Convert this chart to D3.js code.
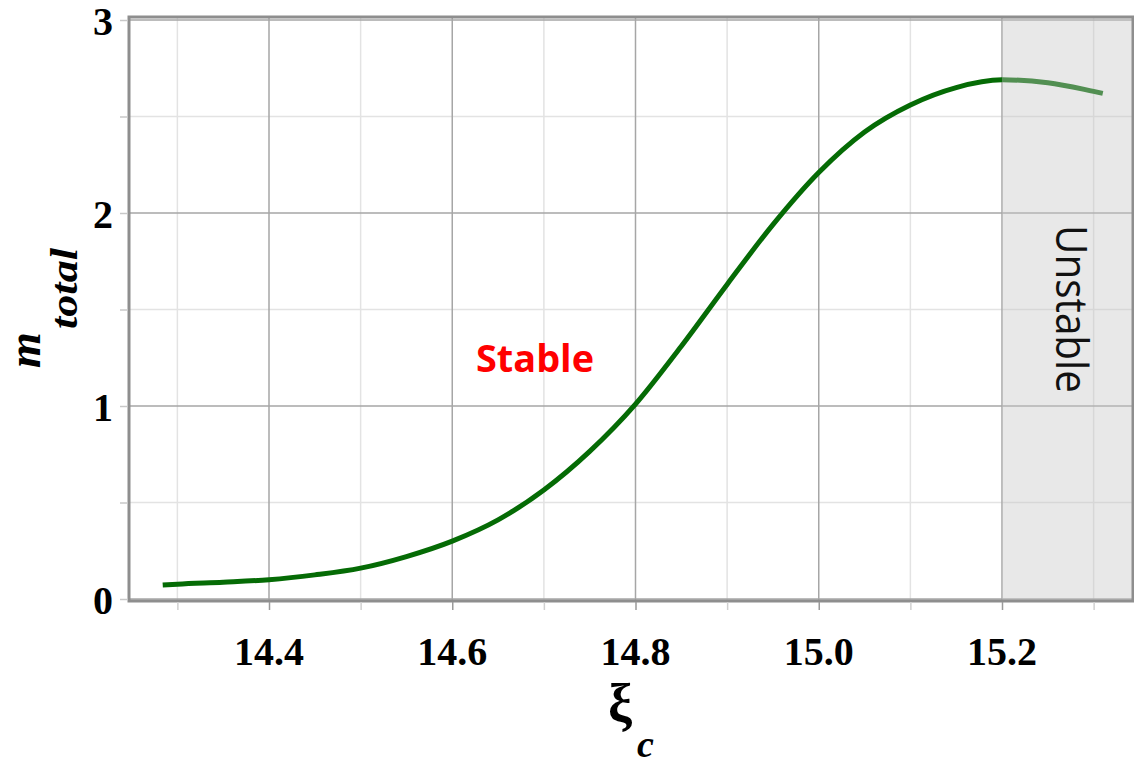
<!DOCTYPE html>
<html>
<head>
<meta charset="utf-8">
<script src="https://cdn.jsdelivr.net/npm/d3@7"></script>
<style>
  html, body { margin: 0; padding: 0; background: #fff; }
  svg { display: block; }
</style>
</head>
<body>
<svg id="chart" width="1134" height="766"></svg>
<script>
// Total mass versus central parameter xi_c
const xiValues = [14.284, 14.30, 14.35, 14.40, 14.45, 14.50, 14.55, 14.60, 14.65, 14.70,
                  14.75, 14.80, 14.85, 14.90, 14.95, 15.00, 15.05, 15.10, 15.15, 15.20,
                  15.25, 15.30, 15.31];
const massValues = [0.072, 0.077, 0.087, 0.100, 0.125, 0.160, 0.220, 0.300, 0.410, 0.565,
                    0.765, 1.010, 1.310, 1.630, 1.940, 2.210, 2.420, 2.560, 2.650, 2.690,
                    2.675, 2.630, 2.620];

const xMajorTicks = [14.4, 14.6, 14.8, 15.0, 15.2];
const xMinorTicks = [14.3, 14.5, 14.7, 14.9, 15.1, 15.3];
const yMajorTicks = [0, 1, 2, 3];
const yMinorTicks = [0.5, 1.5, 2.5];
const unstableFrom = 15.2;

const svg = d3.select("#chart");

const frame = { left: 129, right: 1133, top: 17, bottom: 601 };

const x = d3.scaleLinear().domain([14.4, 15.2]).range([269, 1002]);
const y = d3.scaleLinear().domain([0, 3]).range([599, 20]);

// grid
const grid = svg.append("g");
grid.selectAll(".vminor").data(xMinorTicks).join("line")
  .attr("x1", d => x(d)).attr("x2", d => x(d))
  .attr("y1", frame.top).attr("y2", frame.bottom)
  .attr("stroke", "#e3e3e3").attr("stroke-width", 1.5);
grid.selectAll(".hminor").data(yMinorTicks).join("line")
  .attr("x1", frame.left).attr("x2", frame.right)
  .attr("y1", d => y(d)).attr("y2", d => y(d))
  .attr("stroke", "#e3e3e3").attr("stroke-width", 1.5);
grid.selectAll(".vmajor").data(xMajorTicks).join("line")
  .attr("x1", d => x(d)).attr("x2", d => x(d))
  .attr("y1", frame.top).attr("y2", frame.bottom)
  .attr("stroke", "#a6a6a6").attr("stroke-width", 1.5);
grid.selectAll(".hmajor").data(yMajorTicks).join("line")
  .attr("x1", frame.left).attr("x2", frame.right)
  .attr("y1", d => y(d)).attr("y2", d => y(d))
  .attr("stroke", "#a6a6a6").attr("stroke-width", 1.5);

// curve
const pts = xiValues.map((v, i) => [v, massValues[i]]);
const line = d3.line().x(d => x(d[0])).y(d => y(d[1])).curve(d3.curveMonotoneX);
svg.append("path").datum(pts)
  .attr("d", line)
  .attr("fill", "none")
  .attr("stroke", "#056b05")
  .attr("stroke-width", 5)
  .attr("stroke-linecap", "butt");

// unstable region shading
svg.append("rect")
  .attr("x", x(unstableFrom)).attr("y", frame.top)
  .attr("width", frame.right - x(unstableFrom))
  .attr("height", frame.bottom - frame.top)
  .attr("fill", "#c6c6c6").attr("fill-opacity", 0.4);

// frame
svg.append("rect")
  .attr("x", frame.left).attr("y", frame.top)
  .attr("width", frame.right - frame.left)
  .attr("height", frame.bottom - frame.top)
  .attr("fill", "none").attr("stroke", "#8e8e8e").attr("stroke-width", 3);

// tick marks
const xAxis = d3.axisBottom(x).tickValues(xMajorTicks.concat(xMinorTicks)).tickSize(8).tickFormat("");
const gx = svg.append("g").attr("transform", `translate(0,${frame.bottom + 1})`).call(xAxis);
gx.select(".domain").remove();
gx.selectAll(".tick line").attr("stroke", d => xMajorTicks.includes(d) ? "#9a9a9a" : "#d0d0d0").attr("stroke-width", 1.5);

const yAxis = d3.axisLeft(y).tickValues(yMajorTicks.concat(yMinorTicks)).tickSize(8).tickFormat("");
const gy = svg.append("g").attr("transform", `translate(${frame.left - 1},0)`).call(yAxis);
gy.select(".domain").remove();
gy.selectAll(".tick line").attr("stroke", "#c8c8c8").attr("stroke-width", 1.5);

// tick labels
const serif = "'Liberation Serif', 'Times New Roman', serif";
svg.append("g").selectAll("text").data(xMajorTicks).join("text")
  .attr("x", d => x(d)).attr("y", 665)
  .attr("text-anchor", "middle")
  .attr("font-family", serif).attr("font-weight", "bold").attr("font-size", 40)
  .text(d => d3.format(".1f")(d));

svg.append("g").selectAll("text").data(yMajorTicks).join("text")
  .attr("x", 113).attr("y", d => y(d) + 15)
  .attr("text-anchor", "end")
  .attr("font-family", serif).attr("font-weight", "bold").attr("font-size", 40)
  .text(d => d);

// axis titles
svg.append("text")
  .attr("transform", "translate(40,368) rotate(-90)")
  .attr("font-family", serif).attr("font-weight", "bold").attr("font-style", "italic")
  .attr("font-size", 46)
  .text("m");
svg.append("text")
  .attr("transform", "translate(77,329) rotate(-90)")
  .attr("font-family", serif).attr("font-weight", "bold").attr("font-style", "italic")
  .attr("font-size", 38).attr("textLength", 81).attr("lengthAdjust", "spacingAndGlyphs")
  .text("total");

svg.append("text")
  .attr("x", 608).attr("y", 722)
  .attr("font-family", serif).attr("font-weight", "bold").attr("font-size", 54)
  .text("ξ");
svg.append("text")
  .attr("x", 637).attr("y", 757)
  .attr("font-family", serif).attr("font-weight", "bold").attr("font-style", "italic")
  .attr("font-size", 38)
  .text("c");

// region labels
svg.append("text")
  .attr("x", 476).attr("y", 372)
  .attr("font-family", "'Open Sans', 'Liberation Sans', sans-serif")
  .attr("font-weight", "bold").attr("font-size", 38)
  .attr("textLength", 118).attr("lengthAdjust", "spacingAndGlyphs")
  .attr("fill", "#ff0000")
  .text("Stable");

svg.append("text")
  .attr("transform", "translate(1056,225) rotate(90)")
  .attr("font-family", "'Open Sans', 'Liberation Sans', sans-serif")
  .attr("font-size", 44)
  .attr("textLength", 168).attr("lengthAdjust", "spacingAndGlyphs")
  .attr("fill", "#111")
  .text("Unstable");
</script>
</body>
</html>
